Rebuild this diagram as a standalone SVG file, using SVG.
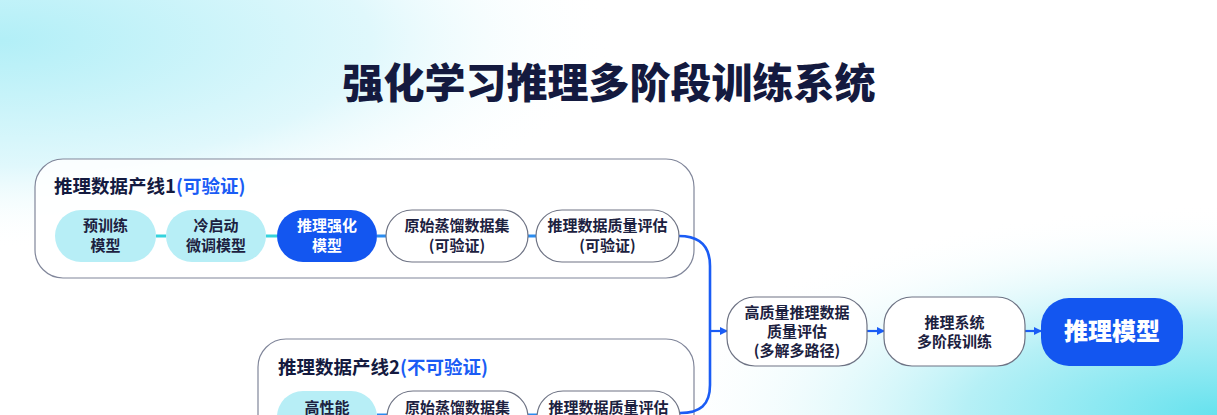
<svg xmlns="http://www.w3.org/2000/svg" width="1217" height="415" viewBox="0 0 1217 415">
<defs>
<radialGradient id="bgTL" cx="0" cy="0" r="1" gradientUnits="userSpaceOnUse" gradientTransform="translate(0 40) scale(620 210)">
<stop offset="0" stop-color="#b2eff7"/>
<stop offset="0.6" stop-color="#e0f8fc"/>
<stop offset="1" stop-color="#ffffff" stop-opacity="0"/>
</radialGradient>
<radialGradient id="bgBR" cx="0" cy="0" r="1" gradientUnits="userSpaceOnUse" gradientTransform="translate(1217 415) scale(560 210)">
<stop offset="0" stop-color="#66e2ee"/>
<stop offset="0.45" stop-color="#b6f0f6"/>
<stop offset="1" stop-color="#ffffff" stop-opacity="0"/>
</radialGradient>
<marker id="arr" viewBox="0 0 8 8" refX="7" refY="4" markerWidth="8" markerHeight="8" markerUnits="userSpaceOnUse" orient="auto">
<path d="M0,0 L8,4 L0,8 z" fill="#1a5cf5"/>
</marker>
</defs>
<style>
text{font-family:"Noto Sans CJK SC","Noto Sans",sans-serif;}
.title{font-size:41px;font-weight:900;fill:#141a3f;}
.gbox{fill:#ffffff;fill-opacity:0.85;stroke:#80869a;stroke-width:1.2;}
.gt{font-size:18.5px;font-weight:700;fill:#141a3f;}
.gtb{fill:#1a5cf5;}
.ncyan{fill:#b7eef6;}
.nblue{fill:#1356f0;}
.nwhite{fill:#ffffff;stroke:#6e7384;stroke-width:1.2;}
.t{font-size:15px;font-weight:700;fill:#1c2140;text-anchor:middle;}
.tw{font-size:15px;font-weight:700;fill:#ffffff;text-anchor:middle;}
.big{font-size:24px;font-weight:900;fill:#ffffff;text-anchor:middle;}
.lc{stroke:#35d3dd;stroke-width:3;fill:none;}
.lb{stroke:#2a8cf0;stroke-width:3;fill:none;}
.main{stroke:#1a5cf5;stroke-width:2.6;fill:none;}
.ar{stroke:#1a5cf5;stroke-width:2.2;fill:none;marker-end:url(#arr);}
</style>
<rect x="0" y="0" width="1217" height="415" fill="#ffffff"/>
<rect x="0" y="0" width="1217" height="415" fill="url(#bgTL)"/>
<rect x="0" y="0" width="1217" height="415" fill="url(#bgBR)"/>

<text class="title" x="609" y="98" text-anchor="middle">强化学习推理多阶段训练系统</text>

<g id="group1">
<rect class="gbox" x="35" y="159" width="659" height="119" rx="28"/>
<text class="gt" x="54" y="193">推理数据产线1<tspan class="gtb">(可验证)</tspan></text>
</g>
<g id="group2">
<rect class="gbox" x="258" y="339" width="436" height="110" rx="28"/>
<text class="gt" x="278" y="374">推理数据产线2<tspan class="gtb">(不可验证)</tspan></text>
</g>

<g id="connectors">
<line class="lc" x1="156" y1="236" x2="166" y2="236"/>
<line class="lc" x1="266" y1="236" x2="277" y2="236"/>
<line class="lb" x1="377" y1="236" x2="386" y2="236"/>
<line class="lb" x1="528" y1="236" x2="536" y2="236"/>
<line class="lb" x1="377" y1="415" x2="387" y2="415"/>
<line class="lb" x1="528" y1="415" x2="537" y2="415"/>
<path class="main" d="M679,236 C700,236 710,246 710,266 L710,385 C710,405 700,413 680,413"/>
<line class="ar" x1="710" y1="331" x2="727" y2="331"/>
<line class="ar" x1="867" y1="331" x2="884" y2="331"/>
<line class="ar" x1="1025" y1="331" x2="1041" y2="331"/>
</g>

<g id="n-pretrain">
<rect class="ncyan" x="55" y="210" width="101" height="52" rx="26"/>
<text class="t" x="105.5" y="231">预训练</text>
<text class="t" x="105.5" y="251">模型</text>
</g>
<g id="n-coldstart">
<rect class="ncyan" x="166" y="210" width="100" height="52" rx="26"/>
<text class="t" x="216" y="231">冷启动</text>
<text class="t" x="216" y="251">微调模型</text>
</g>
<g id="n-rl">
<rect class="nblue" x="277" y="210" width="100" height="52" rx="26"/>
<text class="tw" x="327" y="231">推理强化</text>
<text class="tw" x="327" y="251">模型</text>
</g>
<g id="n-distill1">
<rect class="nwhite" x="386" y="210" width="142" height="52" rx="26"/>
<text class="t" x="457" y="231">原始蒸馏数据集</text>
<text class="t" x="457" y="251">(可验证)</text>
</g>
<g id="n-eval1">
<rect class="nwhite" x="536" y="210" width="143" height="52" rx="26"/>
<text class="t" x="607.5" y="231">推理数据质量评估</text>
<text class="t" x="607.5" y="251">(可验证)</text>
</g>

<g id="n-highperf">
<rect class="ncyan" x="277" y="391" width="100" height="52" rx="26"/>
<text class="t" x="327" y="413">高性能</text>
</g>
<g id="n-distill2">
<rect class="nwhite" x="387" y="391" width="141" height="52" rx="26"/>
<text class="t" x="457.5" y="413">原始蒸馏数据集</text>
</g>
<g id="n-eval2">
<rect class="nwhite" x="537" y="391" width="143" height="52" rx="26"/>
<text class="t" x="608.5" y="413">推理数据质量评估</text>
</g>

<g id="n-hq">
<rect class="nwhite" x="727" y="297" width="140" height="69" rx="28"/>
<text class="t" x="797" y="318">高质量推理数据</text>
<text class="t" x="797" y="337">质量评估</text>
<text class="t" x="797" y="356">(多解多路径)</text>
</g>
<g id="n-train">
<rect class="nwhite" x="884" y="297" width="141" height="69" rx="28"/>
<text class="t" x="954.5" y="328">推理系统</text>
<text class="t" x="954.5" y="347">多阶段训练</text>
</g>
<g id="n-model">
<rect class="nblue" x="1041" y="298" width="142" height="68" rx="28"/>
<text class="big" x="1112" y="340">推理模型</text>
</g>
</svg>
